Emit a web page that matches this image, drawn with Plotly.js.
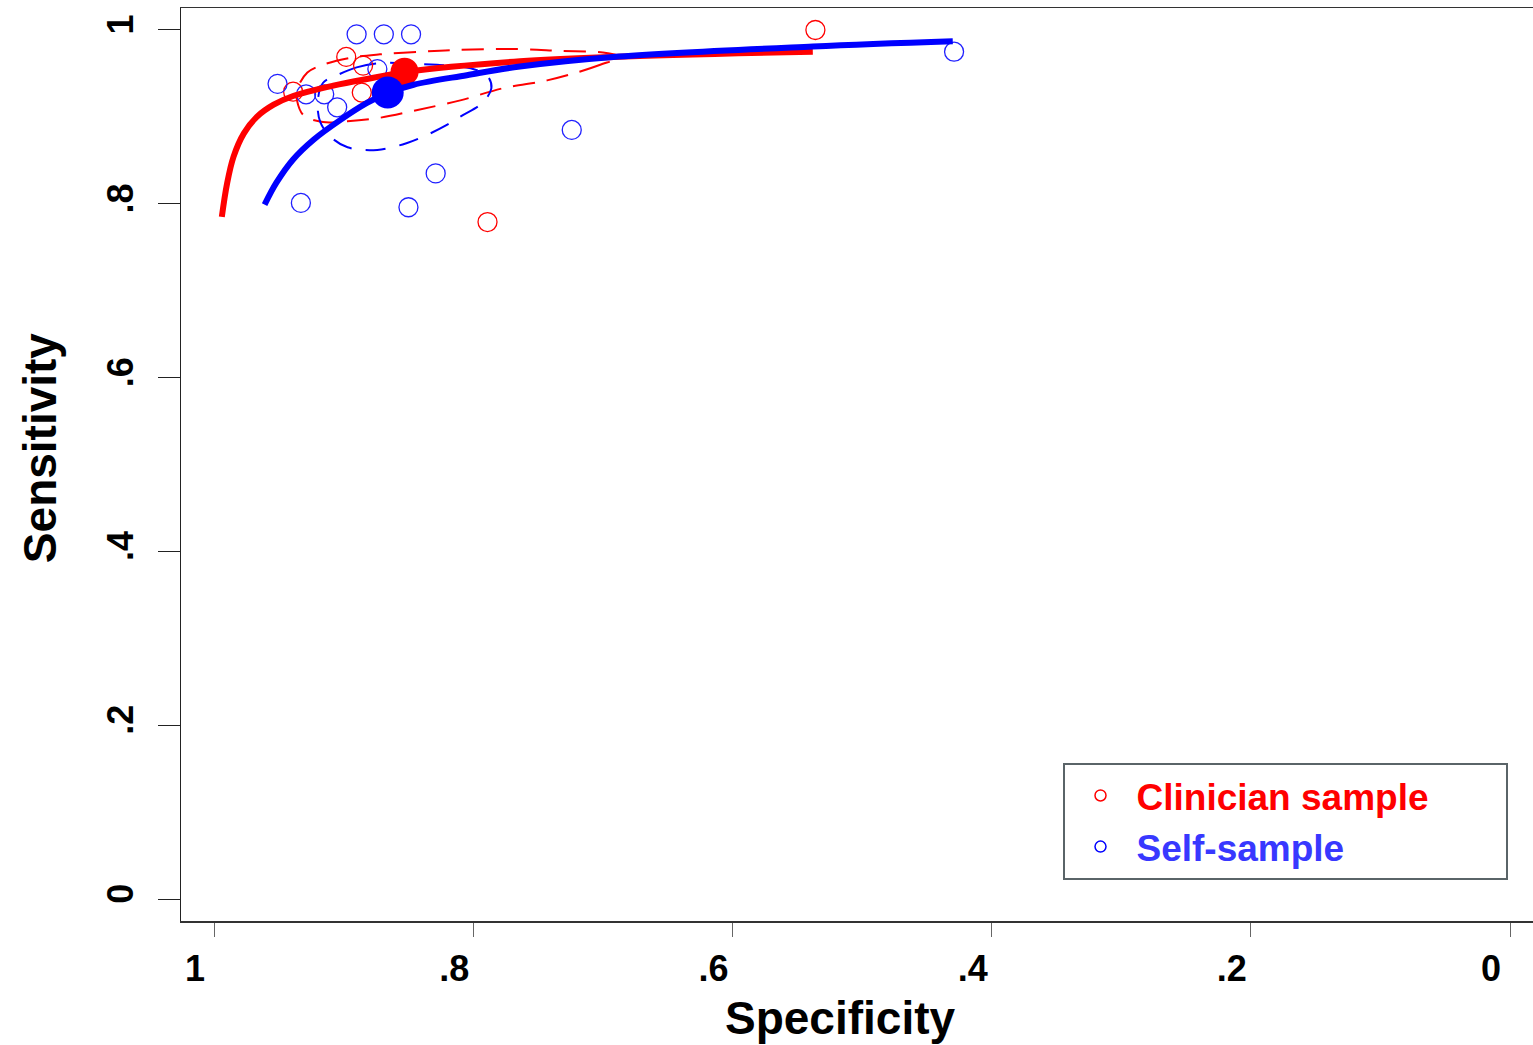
<!DOCTYPE html>
<html>
<head>
<meta charset="utf-8">
<script src="https://cdn.plot.ly/plotly-3.0.1.min.js"></script>
<style>html,body{margin:0;padding:0;background:#fff;}#chart{width:1533px;height:1045px;}</style>
</head>
<body>
<div id="chart"></div>
<script>
// Study estimates: specificity / sensitivity
const clinSpec = [0.536, 0.789, 0.898, 0.885, 0.939, 0.886];
const clinSens = [1.000, 0.779, 0.969, 0.959, 0.929, 0.928];
const selfSpec = [0.890, 0.869, 0.848, 0.951, 0.929, 0.915, 0.905, 0.874, 0.855, 0.724, 0.829, 0.850, 0.933, 0.429];
const selfSens = [0.995, 0.995, 0.995, 0.938, 0.926, 0.926, 0.911, 0.955, 0.951, 0.885, 0.835, 0.796, 0.801, 0.975];

// Summary points
const clinSummary = {spec: 0.853, sens: 0.952};
const selfSummary = {spec: 0.866, sens: 0.928};

// SROC curves
const clinCurveSpec = [0.994, 0.990, 0.985, 0.977, 0.967, 0.954, 0.939, 0.908, 0.877, 0.851, 0.764, 0.692, 0.538];
const clinCurveSens = [0.785, 0.823, 0.854, 0.881, 0.900, 0.914, 0.924, 0.936, 0.945, 0.952, 0.964, 0.969, 0.975];
const selfCurveSpec = [0.961, 0.952, 0.939, 0.923, 0.903, 0.882, 0.867, 0.846, 0.805, 0.764, 0.692, 0.538, 0.430];
const selfCurveSens = [0.799, 0.824, 0.851, 0.874, 0.896, 0.916, 0.927, 0.937, 0.948, 0.958, 0.969, 0.981, 0.987];

// Confidence regions (dashed)
const clinRegionSpec = [0.687, 0.702, 0.718, 0.743, 0.777, 0.810, 0.843, 0.872, 0.897, 0.916, 0.931, 0.936, 0.936, 0.928, 0.916, 0.895, 0.872, 0.841, 0.813, 0.766, 0.733, 0.700, 0.687];
const clinRegionSens = [0.969, 0.960, 0.952, 0.942, 0.933, 0.919, 0.908, 0.899, 0.895, 0.894, 0.902, 0.919, 0.931, 0.951, 0.960, 0.968, 0.972, 0.975, 0.977, 0.978, 0.976, 0.974, 0.969];
const selfRegionSpec = [0.905, 0.890, 0.872, 0.846, 0.828, 0.802, 0.789, 0.786, 0.793, 0.808, 0.820, 0.836, 0.851, 0.874, 0.897, 0.910, 0.918, 0.920, 0.916, 0.905];
const selfRegionSens = [0.948, 0.957, 0.962, 0.961, 0.960, 0.956, 0.947, 0.933, 0.916, 0.902, 0.891, 0.879, 0.870, 0.862, 0.865, 0.877, 0.894, 0.916, 0.939, 0.948];

// Axis ticks
const tickVals = [0, 0.2, 0.4, 0.6, 0.8, 1];
const tickText = ["0", ".2", ".4", ".6", ".8", "1"];

const seriesNames = ["Clinician sample", "Self-sample"];
const RED = "#ff0000", BLUE = "#0000ff";
const FONT = "Liberation Sans, Arial, sans-serif";
const PAD = "\u00A0\u00A0\u00A0\u00A0\u00A0\u00A0\u00A0";

const traces = [
  {x: clinRegionSpec, y: clinRegionSens, mode: "lines", line: {color: RED, width: 2, dash: "22px,12px", shape: "spline"}, showlegend: false, hoverinfo: "skip"},
  {x: selfRegionSpec, y: selfRegionSens, mode: "lines", line: {color: BLUE, width: 2, dash: "20px,14px", shape: "spline"}, showlegend: false, hoverinfo: "skip"},
  {x: clinSpec, y: clinSens, mode: "markers", marker: {symbol: "circle-open", size: 19, color: RED, line: {width: 1.3, color: RED}}, showlegend: false},
  {x: selfSpec, y: selfSens, mode: "markers", marker: {symbol: "circle-open", size: 19, color: "#2020ff", line: {width: 1.3, color: "#2020ff"}}, showlegend: false},
  {x: clinCurveSpec, y: clinCurveSens, mode: "lines", line: {color: RED, width: 6, shape: "spline"}, showlegend: false},
  {x: [clinSummary.spec], y: [clinSummary.sens], mode: "markers", marker: {symbol: "circle", size: 28, color: RED}, showlegend: false},
  {x: selfCurveSpec, y: selfCurveSens, mode: "lines", line: {color: BLUE, width: 6, shape: "spline"}, showlegend: false},
  {x: [selfSummary.spec], y: [selfSummary.sens], mode: "markers", marker: {symbol: "circle", size: 32, color: BLUE}, showlegend: false},
  // legend entries
  {x: [null], y: [null], mode: "markers", legendgroup: "a", name: '<span style="color:#ff0000">' + seriesNames[0] + PAD + '</span>', marker: {symbol: "circle-open", size: 11, color: RED, line: {width: 1.5}}},
  {x: [null], y: [null], mode: "markers", legendgroup: "b", name: '<span style="color:#3838ff">' + seriesNames[1] + '</span>', marker: {symbol: "circle-open", size: 11, color: BLUE, line: {width: 1.5}}}
];

const layout = {
  width: 1533, height: 1045,
  margin: {l: 181, r: 0, t: 8, b: 124},
  paper_bgcolor: "#fff", plot_bgcolor: "#fff",
  font: {family: FONT, color: "#000"},
  showlegend: true,
  legend: {
    x: 0.652, y: 0.045, xanchor: "left", yanchor: "bottom",
    bordercolor: "#5a6468", borderwidth: 2, bgcolor: "#fff",
    font: {family: FONT, size: 37, weight: "bold"},
    itemwidth: 62, tracegroupgap: 0
  },
  xaxis: {
    range: [1.0255, -0.0177],
    tickvals: tickVals, ticktext: tickText,
    ticks: "outside", ticklen: 14, tickcolor: "#666", tickwidth: 1,
    tickfont: {family: FONT, size: 36, weight: "bold"},
    ticklabelshift: 19, ticklabelstandoff: 1,
    showgrid: false, zeroline: false,
    showline: true, linecolor: "#333", linewidth: 1.5, mirror: true
  },
  yaxis: {
    range: [-0.0253, 1.0253],
    tickvals: tickVals, ticktext: tickText,
    ticks: "outside", ticklen: 22, tickcolor: "#222", tickwidth: 1,
    tickangle: -90,
    tickfont: {family: FONT, size: 36, weight: "bold"},
    ticklabelstandoff: 10,
    showgrid: false, zeroline: false,
    showline: true, linecolor: "#222", linewidth: 1.2
  },
  annotations: [
    {text: "Specificity", xref: "paper", yref: "paper", x: 0.488, y: -0.106, xanchor: "center", yanchor: "middle",
     showarrow: false, font: {family: FONT, size: 46, weight: "bold", color: "#000"}},
    {text: "Sensitivity", xref: "paper", yref: "paper", x: -0.1043, y: 0.519, xanchor: "center", yanchor: "middle",
     textangle: -90, showarrow: false, font: {family: FONT, size: 46, weight: "bold", color: "#000"}}
  ]
};

Plotly.newPlot("chart", traces, layout, {displayModeBar: false, staticPlot: true});
</script>
</body>
</html>
